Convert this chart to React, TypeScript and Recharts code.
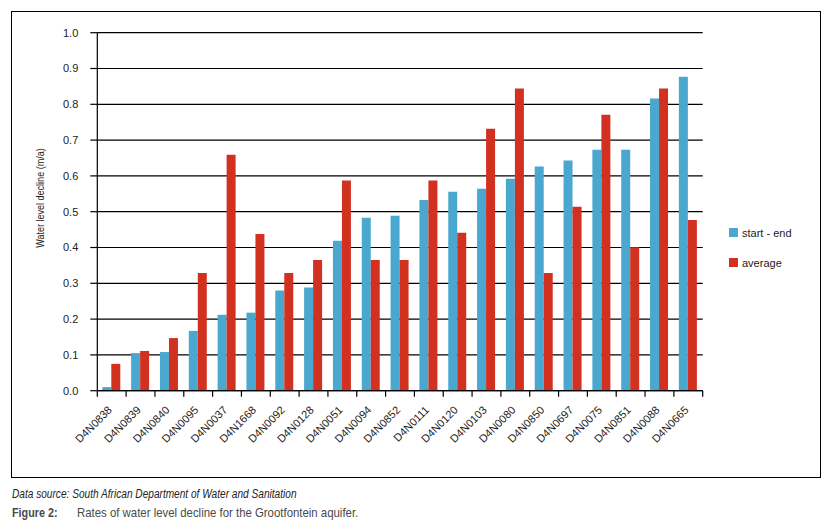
import React from 'react';
import { BarChart, Bar, XAxis, YAxis, CartesianGrid } from 'recharts';

const categories = [
  'D4N0838', 'D4N0839', 'D4N0840', 'D4N0095', 'D4N0037', 'D4N1668', 'D4N0092',
  'D4N0128', 'D4N0051', 'D4N0094', 'D4N0852', 'D4N0111', 'D4N0120', 'D4N0103',
  'D4N0080', 'D4N0850', 'D4N0697', 'D4N0075', 'D4N0851', 'D4N0088', 'D4N0665',
];
const startEnd = [
  0.01, 0.105, 0.108, 0.167, 0.212, 0.218, 0.28, 0.288, 0.419, 0.483, 0.489,
  0.533, 0.556, 0.564, 0.592, 0.626, 0.643, 0.673, 0.673, 0.816, 0.877,
];
const average = [
  0.075, 0.111, 0.147, 0.329, 0.659, 0.438, 0.329, 0.365, 0.587, 0.365, 0.365,
  0.587, 0.441, 0.732, 0.844, 0.329, 0.514, 0.771, 0.401, 0.844, 0.477,
];
const yTicks = [0, 0.1, 0.2, 0.3, 0.4, 0.5, 0.6, 0.7, 0.8, 0.9, 1.0];
const seriesNames = ['start - end', 'average'];
const yTitle = 'Water level decline (m/a)';
const sourceText = 'Data source: South African Department of Water and Sanitation';
const figLabel = 'Figure 2:';
const figTitle = 'Rates of water level decline for the Grootfontein aquifer.';

const BLUE = '#4AA8D0';
const RED = '#D2311F';
const FONT = '"Liberation Sans", Arial, sans-serif';

const data = categories.map((c, i) => ({ name: c, startEnd: startEnd[i], average: average[i] }));

const W = 834;
const H = 526;
const MARGIN = { top: 32.7, right: 131.3, bottom: 75.3, left: 37.3 };
const Y_AXIS_W = 60;
const X_AXIS_H = 60;
const PLOT_W = W - MARGIN.left - MARGIN.right - Y_AXIS_W;
const HALF_BAND = PLOT_W / categories.length / 2;

function XTick(props: any) {
  const { x, y, payload, index } = props;
  const tx = x + 1;
  const ty = y + 20;
  return (
    <g>
      <line x1={x - HALF_BAND} x2={x - HALF_BAND} y1={y} y2={y + 6} stroke="#000" strokeWidth={1.2} />
      {index === categories.length - 1 && (
        <line x1={x + HALF_BAND} x2={x + HALF_BAND} y1={y} y2={y + 6} stroke="#000" strokeWidth={1.2} />
      )}
      <text
        x={tx}
        y={ty}
        transform={`rotate(-45 ${tx} ${ty})`}
        textAnchor="end"
        fontSize={11}
        fontFamily={FONT}
        fill="#222"
      >
        {payload.value}
      </text>
    </g>
  );
}

export default function App() {
  return (
    <div style={{ position: 'absolute', left: 0, top: 0, width: W, height: H, background: '#fff', fontFamily: FONT }}>
      <div
        style={{
          position: 'absolute',
          left: 11,
          top: 11,
          width: 810,
          height: 467,
          border: '1.3px solid #000',
          boxSizing: 'border-box',
        }}
      />
      <div style={{ position: 'absolute', left: 0, top: 0 }}>
        <BarChart width={W} height={H} data={data} margin={MARGIN} barGap={0}>
          <CartesianGrid vertical={false} stroke="#000" strokeWidth={1.2} />
          <XAxis
            dataKey="name"
            interval={0}
            height={X_AXIS_H}
            tickLine={false}
            tickSize={0}
            tickMargin={0}
            axisLine={{ stroke: '#000', strokeWidth: 1.2 }}
            tick={<XTick />}
          />
          <YAxis
            width={Y_AXIS_W}
            domain={[0, 1]}
            ticks={yTicks}
            interval={0}
            tickFormatter={(v: number) => v.toFixed(1)}
            tickSize={7}
            tickMargin={12}
            tickLine={{ stroke: '#000', strokeWidth: 1.2 }}
            axisLine={{ stroke: '#000', strokeWidth: 1.2 }}
            tick={{ fontSize: 11, fill: '#222', fontFamily: FONT }}
          />
          <Bar dataKey="startEnd" name={seriesNames[0]} fill={BLUE} barSize={9} isAnimationActive={false} />
          <Bar dataKey="average" name={seriesNames[1]} fill={RED} barSize={9} isAnimationActive={false} />
        </BarChart>
      </div>

      <div
        style={{
          position: 'absolute',
          left: 40,
          top: 197.5,
          transform: 'translate(-50%, -50%) rotate(-90deg) scaleX(0.82)',
          whiteSpace: 'nowrap',
          fontSize: 11,
          lineHeight: 1,
          color: '#222',
        }}
      >
        {yTitle}
      </div>

      {[BLUE, RED].map((c, i) => (
        <div key={i}>
          <div
            style={{ position: 'absolute', left: 728.5, top: 228 + i * 30, width: 9, height: 9, background: c }}
          />
          <div
            style={{
              position: 'absolute',
              left: 742,
              top: 226.5 + i * 30,
              fontSize: 11,
              lineHeight: '12px',
              color: '#222',
              whiteSpace: 'nowrap',
            }}
          >
            {seriesNames[i]}
          </div>
        </div>
      ))}

      <div
        style={{
          position: 'absolute',
          left: 12,
          top: 487.5,
          fontSize: 12,
          lineHeight: '13px',
          fontStyle: 'italic',
          color: '#222',
          whiteSpace: 'nowrap',
          transform: 'scaleX(0.843)',
          transformOrigin: 'left center',
        }}
      >
        {sourceText}
      </div>
      <div
        style={{
          position: 'absolute',
          left: 12,
          top: 506,
          fontSize: 13.5,
          lineHeight: '14px',
          fontWeight: 'bold',
          color: '#4a4a4a',
          whiteSpace: 'nowrap',
          transform: 'scaleX(0.8)',
          transformOrigin: 'left center',
        }}
      >
        {figLabel}
      </div>
      <div
        style={{
          position: 'absolute',
          left: 76.7,
          top: 506,
          fontSize: 13.5,
          lineHeight: '14px',
          color: '#4a4a4a',
          whiteSpace: 'nowrap',
          transform: 'scaleX(0.844)',
          transformOrigin: 'left center',
        }}
      >
        {figTitle}
      </div>
    </div>
  );
}
